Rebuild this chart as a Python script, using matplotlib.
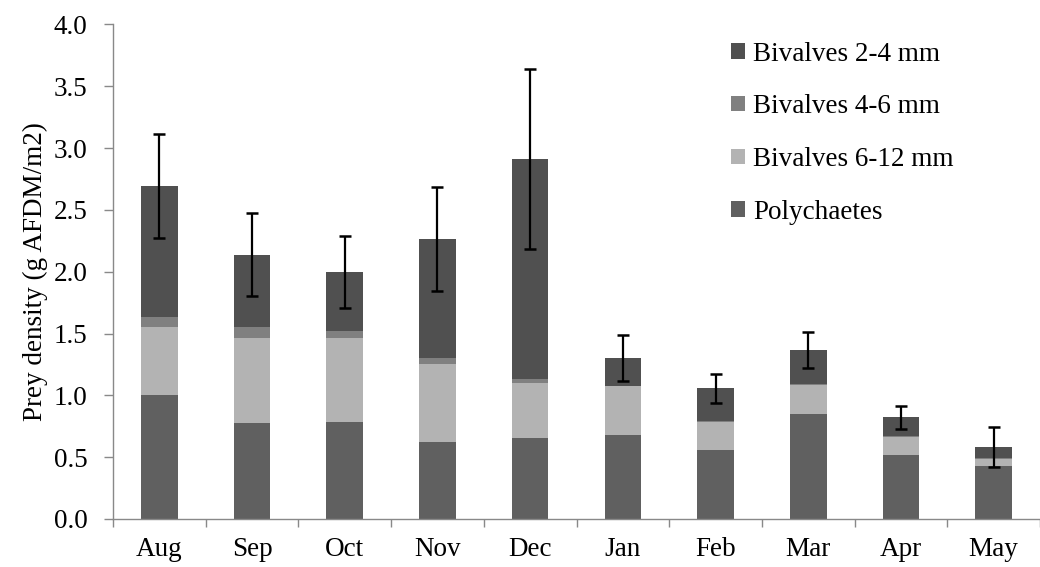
import matplotlib
matplotlib.use("Agg")
import matplotlib.pyplot as plt
import numpy as np

months = ["Aug", "Sep", "Oct", "Nov", "Dec", "Jan", "Feb", "Mar", "Apr", "May"]
polychaetes = [1.00, 0.775, 0.786, 0.62, 0.656, 0.683, 0.559, 0.848, 0.521, 0.43]
bivalves_6_12 = [0.556, 0.692, 0.681, 0.636, 0.444, 0.389, 0.224, 0.235, 0.138, 0.056]
bivalves_4_6 = [0.074, 0.089, 0.053, 0.044, 0.030, 0.006, 0.006, 0.006, 0.016, 0.011]
bivalves_2_4 = [1.060, 0.581, 0.480, 0.966, 1.780, 0.224, 0.267, 0.278, 0.146, 0.086]
errors = [0.42, 0.335, 0.29, 0.42, 0.73, 0.185, 0.12, 0.142, 0.095, 0.16]
yticks = [0.0, 0.5, 1.0, 1.5, 2.0, 2.5, 3.0, 3.5, 4.0]

plt.rcParams['font.family'] = ['Liberation Serif', 'DejaVu Serif']

fig = plt.figure(figsize=(10.4, 5.67), dpi=100)
ax = fig.add_axes([0.1087, 0.0847, 0.8913, 0.8723])

x = np.arange(len(months))
w = 0.395
c_poly = '#606060'
c_612 = '#b3b3b3'
c_46 = '#808080'
c_24 = '#505050'

poly = np.array(polychaetes)
b612 = np.array(bivalves_6_12)
b46 = np.array(bivalves_4_6)
b24 = np.array(bivalves_2_4)

h1 = ax.bar(x, poly, w, color=c_poly, label='Polychaetes', zorder=2)
h2 = ax.bar(x, b612, w, bottom=poly, color=c_612, label='Bivalves 6-12 mm', zorder=2)
h3 = ax.bar(x, b46, w, bottom=poly + b612, color=c_46, label='Bivalves 4-6 mm', zorder=2)
total = poly + b612 + b46
h4 = ax.bar(x, b24, w, bottom=total, color=c_24, label='Bivalves 2-4 mm', zorder=2)
total = total + b24
ax.errorbar(x, total, yerr=errors, fmt='none', ecolor='black', elinewidth=1.6,
            capsize=4.2, capthick=1.8, zorder=3)

fs = 19.5
ax.set_xlim(-0.5, len(months) - 0.5)
ax.set_ylim(0, 4.0)
ax.set_yticks(yticks)
ax.set_yticklabels([f"{t:.1f}" for t in yticks], fontsize=fs)
ax.set_xticks(x)
ax.set_xticklabels(months, fontsize=fs)
ax.tick_params(axis='x', which='major', length=0, pad=13)
ax.set_xticks(np.arange(len(months) + 1) - 0.5, minor=True)
ax.tick_params(axis='x', which='minor', length=6, color='#898989', width=1)
ax.tick_params(axis='y', length=6.5, color='#898989', width=1, pad=12)

for s in ['top', 'right']:
    ax.spines[s].set_visible(False)
for s in ['left', 'bottom']:
    ax.spines[s].set_color('#898989')
    ax.spines[s].set_linewidth(1)

ax.set_ylabel('Prey density (g AFDM/m2)', fontsize=fs, labelpad=4)

leg = ax.legend([h4, h3, h2, h1],
                ['Bivalves 2-4 mm', 'Bivalves 4-6 mm', 'Bivalves 6-12 mm', 'Polychaetes'],
                loc='upper left', bbox_to_anchor=(0.667, 0.965), frameon=False,
                fontsize=fs, handlelength=0.5, handleheight=0.5, handletextpad=0.3,
                labelspacing=1.02, borderpad=0, borderaxespad=0)

fig.savefig('out.png', dpi=100)
